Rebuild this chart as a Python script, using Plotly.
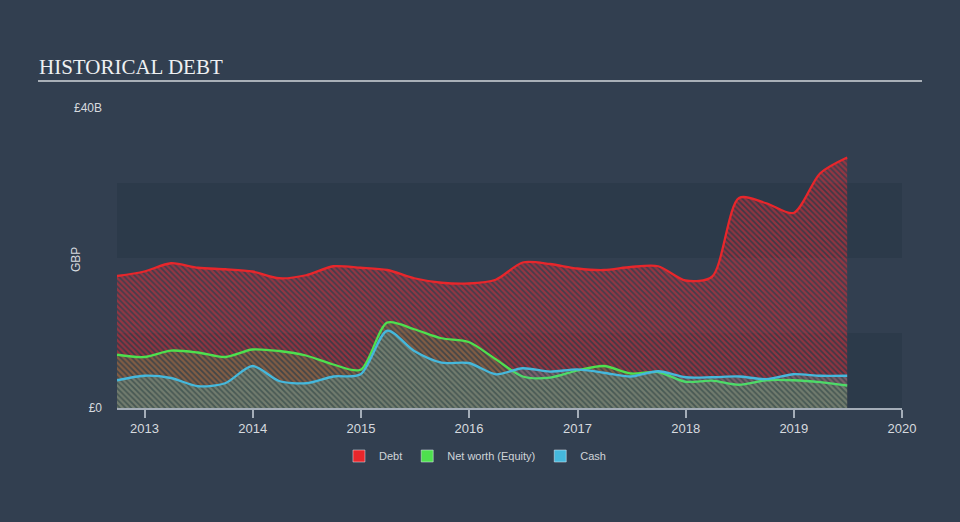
import plotly.graph_objects as go

dates = ["2012-09-30", "2012-12-31", "2013-03-31", "2013-06-30", "2013-09-30", "2013-12-31",
         "2014-03-31", "2014-06-30", "2014-09-30", "2014-12-31", "2015-03-31", "2015-06-30",
         "2015-09-30", "2015-12-31", "2016-03-31", "2016-06-30", "2016-09-30", "2016-12-31",
         "2017-03-31", "2017-06-30", "2017-09-30", "2017-12-31", "2018-03-31", "2018-06-30",
         "2018-09-30", "2018-12-31", "2019-03-31", "2019-06-30"]

debt = [17.6, 18.2, 19.3, 18.7, 18.5, 18.2, 17.3, 17.7, 18.9, 18.7, 18.4, 17.3,
        16.7, 16.6, 17.1, 19.4, 19.2, 18.6, 18.4, 18.8, 18.9, 17.0, 17.5, 28.0,
        27.3, 26.0, 31.3, 33.4]

net_worth = [7.1, 6.8, 7.65, 7.4, 6.8, 7.8, 7.6, 7.0, 5.8, 5.1, 11.4, 10.5,
             9.3, 8.8, 6.5, 4.2, 4.05, 5.0, 5.6, 4.6, 4.8, 3.5, 3.65, 3.1,
             3.7, 3.7, 3.45, 3.0]

cash = [3.7, 4.3, 4.0, 2.9, 3.3, 5.6, 3.6, 3.3, 4.2, 4.5, 10.3, 7.6,
        6.05, 6.0, 4.5, 5.3, 4.85, 5.15, 4.7, 4.2, 4.9, 4.1, 4.1, 4.2,
        3.85, 4.5, 4.3, 4.3]

series = [
    ("Debt", debt, "#e8262b", "rgba(226,48,58,1.0)", "rgba(232,38,43,0.10)"),
    ("Net worth (Equity)", net_worth, "#4ee04e", "rgba(78,224,78,0.35)", "rgba(78,224,78,0.10)"),
    ("Cash", cash, "#45b8dc", "rgba(69,184,220,0.45)", "rgba(80,200,170,0.15)"),
]

BG = "#323f50"
BAND = "#2c3a4a"

fig = go.Figure()

for i, (name, vals, col, fg, bg) in enumerate(series):
    fig.add_trace(go.Scatter(
        x=dates, y=vals, mode="lines", name=name, showlegend=False,
        line=dict(color=col, width=2.3, shape="spline", smoothing=0.8),
        fill="tozeroy", fillcolor=bg,
        fillpattern=dict(shape="\\", fgcolor=fg, bgcolor=bg, size=4,
                         solidity=0.55 if i == 0 else 0.45),
        hoverinfo="skip",
    ))

for name, vals, col, fg, bg in series:
    fig.add_trace(go.Bar(x=[None], y=[None], name=name, marker=dict(color=col), showlegend=True))

fig.update_layout(
    width=960, height=522,
    paper_bgcolor=BG, plot_bgcolor="rgba(0,0,0,0)",
    margin=dict(l=117, r=58, t=108, b=114),
    title=dict(text="HISTORICAL DEBT", x=39/960, y=1-67/522, xanchor="left", yanchor="middle",
               font=dict(family="Liberation Serif", size=21, color="#eef0f2")),
    showlegend=True,
    legend=dict(orientation="h", x=0.456, y=-0.16, xanchor="center", yanchor="middle",
                font=dict(family="Liberation Sans", size=11, color="#d0d4d8"),
                bgcolor="rgba(0,0,0,0)", itemwidth=30),
    xaxis=dict(type="date", range=["2012-09-30", "2020-01-01"], showgrid=False, zeroline=False,
               showline=True, linecolor="#a4adb8", linewidth=1.5,
               ticks="outside", ticklen=8, tickcolor="#a4adb8", tickwidth=1.5,
               dtick="M12", tick0="2013-01-01", tickformat="%Y",
               tickfont=dict(family="Liberation Sans", size=13, color="#d6dadf")),
    yaxis=dict(range=[0, 40], showgrid=False, zeroline=False, showline=False,
               tickmode="array", tickvals=[0, 40], ticktext=["£0", "£40B"],
               ticklabelstandoff=14,
               tickfont=dict(family="Liberation Sans", size=12, color="#d6dadf")),
    shapes=[
        dict(type="rect", xref="paper", yref="y", x0=0, x1=1, y0=0, y1=10,
             fillcolor=BAND, line=dict(width=0), layer="below"),
        dict(type="rect", xref="paper", yref="y", x0=0, x1=1, y0=20, y1=30,
             fillcolor=BAND, line=dict(width=0), layer="below"),
        dict(type="line", xref="paper", yref="paper", x0=(38-117)/785, x1=(922-117)/785,
             y0=(408-81)/300, y1=(408-81)/300, line=dict(color="#a9b0b8", width=2)),
    ],
    annotations=[
        dict(text="GBP", xref="paper", yref="paper", x=(76-117)/785, y=(408-260)/300,
             textangle=-90, showarrow=False, xanchor="center", yanchor="middle",
             font=dict(family="Liberation Sans", size=12, color="#d6dadf")),
    ],
)

fig.write_html("out.html")
